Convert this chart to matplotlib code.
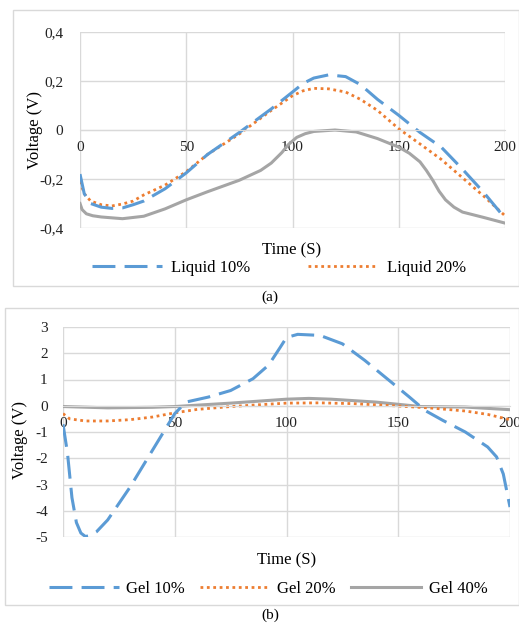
import matplotlib.pyplot as plt
from matplotlib.patches import Rectangle
from matplotlib.lines import Line2D

plt.rcParams['font.family'] = ['Liberation Serif', 'DejaVu Serif']

W, H = 519, 624

# ---- chart (a): liquid ----
liq_t = [0, 2, 5, 10, 15, 20, 25, 30, 40, 50, 60, 75, 90, 100, 105, 110, 117, 125,
         132, 140, 150, 160, 170, 180, 190, 200]
liq10 = [-0.18, -0.26, -0.30, -0.315, -0.32, -0.318, -0.305, -0.29, -0.24, -0.175,
         -0.10, -0.01, 0.086, 0.155, 0.19, 0.212, 0.225, 0.218, 0.185, 0.125, 0.06,
         -0.01, -0.07, -0.16, -0.255, -0.36]
liq20 = [-0.21, -0.26, -0.29, -0.305, -0.31, -0.302, -0.29, -0.265, -0.225, -0.17,
         -0.10, -0.016, 0.08, 0.14, 0.16, 0.17, 0.168, 0.155, 0.125, 0.08, 0.005,
         -0.057, -0.12, -0.195, -0.27, -0.35]
liq_grey_t = [0, 1, 3, 6, 10, 20, 30, 40, 50, 60, 75, 85, 90, 95, 98, 102, 106, 110,
              120, 130, 140, 150, 155, 160, 163, 166, 169, 172, 176, 180, 190, 200]
liq_grey = [-0.30, -0.325, -0.342, -0.35, -0.355, -0.362, -0.352, -0.322, -0.285,
            -0.252, -0.205, -0.165, -0.135, -0.092, -0.06, -0.03, -0.015, -0.006,
            0.0, -0.008, -0.035, -0.07, -0.095, -0.13, -0.165, -0.205, -0.25, -0.285,
            -0.315, -0.335, -0.357, -0.38]

# ---- chart (b): gel ----
gel10_t = [0, 2, 4, 6, 8, 10, 12, 15, 20, 30, 40, 50, 55, 65, 75, 85, 92, 97, 100,
           105, 115, 125, 135, 145, 155, 162, 170, 180, 190, 194, 197, 200]
gel10 = [-0.7, -1.8, -3.5, -4.45, -4.85, -4.98, -4.95, -4.8, -4.35, -3.1, -1.7,
         -0.3, 0.14, 0.33, 0.58, 1.03, 1.55, 2.2, 2.6, 2.72, 2.68, 2.36, 1.73, 1.03,
         0.33, -0.18, -0.56, -1.0, -1.57, -1.95, -2.6, -3.86]
gel20_t = [0, 3, 10, 20, 30, 40, 50, 60, 75, 90, 100, 115, 130, 150, 165, 180, 190, 200]
gel20 = [-0.3, -0.5, -0.58, -0.58, -0.53, -0.43, -0.27, -0.14, -0.03, 0.05, 0.1,
         0.11, 0.08, -0.01, -0.09, -0.2, -0.33, -0.53]
gel40_t = [0, 20, 40, 50, 75, 100, 110, 120, 140, 160, 180, 200]
gel40 = [-0.03, -0.08, -0.06, -0.03, 0.1, 0.25, 0.28, 0.25, 0.14, -0.03, -0.05, -0.15]

BLUE = '#5B9BD5'
ORANGE = '#ED7D31'
GREY = '#A5A5A5'
GRID = '#D9D9D9'

fig = plt.figure(figsize=(W / 100, H / 100), dpi=100)


def px_axes(x0, y0, x1, y1):
    return fig.add_axes([x0 / W, 1 - y1 / H, (x1 - x0) / W, (y1 - y0) / H])


def style(ax, ylim, yticks, ylabels, ypad):
    ax.set_xlim(0, 200)
    ax.set_ylim(*ylim)
    ax.set_xticks([0, 50, 100, 150, 200])
    ax.set_yticks(yticks)
    ax.set_yticklabels(ylabels)
    ax.grid(True, color=GRID, lw=1)
    ax.set_axisbelow(True)
    for s in ('top', 'right', 'left'):
        ax.spines[s].set_visible(False)
    ax.spines['bottom'].set_position(('data', 0))
    ax.spines['bottom'].set_color(GRID)
    ax.tick_params(axis='both', length=0, labelsize=11, colors='#222222')
    ax.tick_params(axis='x', pad=8)
    ax.tick_params(axis='y', pad=ypad)
    ax.patch.set_alpha(0)


dash = dict(color=BLUE, lw=2.2, ls=(0, (7.5, 3)), solid_joinstyle='round')
dots = dict(color=ORANGE, lw=2, ls=(0, (1, 1.3)))
solid = dict(color=GREY, lw=2.2, solid_joinstyle='round')

# outer frames
fig.add_artist(Rectangle((13 / W, 1 - 286 / H), (W - 13) / W, 276 / H,
                         transform=fig.transFigure, fill=False, ec=GRID, lw=1))
fig.add_artist(Rectangle((5 / W, 1 - 605 / H), (W - 5) / W, 297 / H,
                         transform=fig.transFigure, fill=False, ec=GRID, lw=1))

# chart (a)
ax1 = px_axes(80, 32, 505, 228)
ax1.plot(liq_grey_t, liq_grey, **solid)
ax1.plot(liq_t, liq20, **dots)
ax1.plot(liq_t, liq10, **dash)
style(ax1, (-0.4, 0.4), [-0.4, -0.2, 0, 0.2, 0.4],
      ['-0,4', '-0,2', '0', '0,2', '0,4'], 12)
fig.text(35 / W, 1 - 130 / H, 'Voltage (V)', rotation=90, ha='center', va='center',
         fontsize=12)
fig.text(292 / W, 1 - 250 / H, 'Time (S)', ha='center', va='center', fontsize=12)
fig.legend([Line2D([], [], **dash), Line2D([], [], **dots)],
           ['Liquid 10%', 'Liquid 20%'], loc='center',
           bbox_to_anchor=(279 / W, 1 - 268 / H), ncol=2, frameon=False,
           fontsize=12, handlelength=4.2, columnspacing=3.5, handletextpad=0.5)
fig.text(270 / W, 1 - 297 / H, '(a)', ha='center', va='center', fontsize=11)

# chart (b)
ax2 = px_axes(63, 327, 510, 537)
ax2.plot(gel40_t, gel40, **solid)
ax2.plot(gel20_t, gel20, **dots)
ax2.plot(gel10_t, gel10, **dash)
style(ax2, (-5, 3), list(range(-5, 4)), [str(v) for v in range(-5, 4)], 11)
fig.text(20 / W, 1 - 440 / H, 'Voltage (V)', rotation=90, ha='center', va='center',
         fontsize=12)
fig.text(287 / W, 1 - 560 / H, 'Time (S)', ha='center', va='center', fontsize=12)
fig.legend([Line2D([], [], **dash), Line2D([], [], **dots), Line2D([], [], **solid)],
           ['Gel 10%', 'Gel 20%', 'Gel 40%'], loc='center',
           bbox_to_anchor=(268 / W, 1 - 589 / H), ncol=3, frameon=False,
           fontsize=12, handlelength=4.2, columnspacing=0.9, handletextpad=0.45)
fig.text(270 / W, 1 - 615 / H, '(b)', ha='center', va='center', fontsize=11)

fig.savefig('out.png', dpi=100)
